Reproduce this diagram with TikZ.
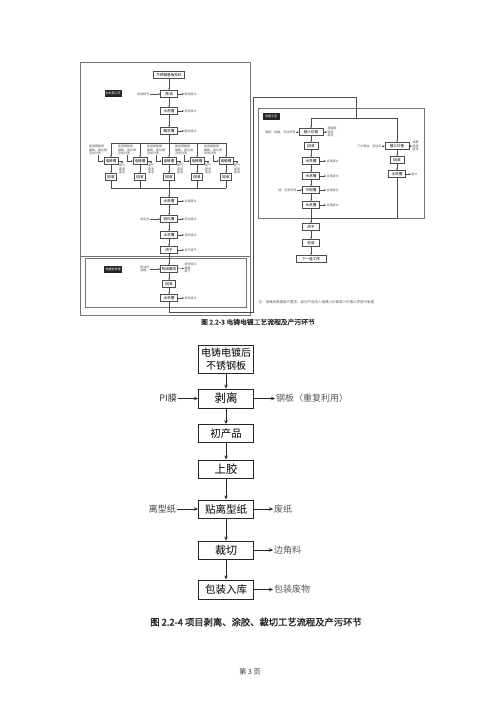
\documentclass[tikz,border=0pt]{standalone}
\usepackage{fontspec}
\setmainfont{Noto Sans CJK SC}
\newfontfamily\cjkb[FakeBold=1.5]{Noto Sans CJK SC}
\usetikzlibrary{arrows.meta}
\begin{document}
\begin{tikzpicture}[x=1pt,y=-1pt,
  tbox/.style={draw=black!70, line width=0.4pt, fill=white, inner sep=0.6pt, minimum height=7pt, minimum width=17pt, font=\fontsize{3.6}{4}\selectfont},
  tnote/.style={font=\fontsize{3}{3.4}\selectfont, text=black!65, align=left, inner sep=0.4pt},
  tar/.style={-{Stealth[length=2pt,width=1.6pt]}, draw=black!70, line width=0.4pt},
  tline/.style={draw=black!70, line width=0.4pt},
  frame/.style={draw=black!55, line width=0.5pt},
  blab/.style={fill=black!85, text=white, minimum width=17pt, minimum height=7pt, inner sep=0.3pt, font=\fontsize{3}{3.4}\selectfont},
  bbox/.style={draw=black!85, line width=0.9pt, minimum width=55pt, minimum height=18pt, inner sep=1pt, font=\fontsize{10.5}{12}\selectfont, align=center},
  bnote/.style={text=black!65, font=\fontsize{9}{10}\selectfont, inner sep=1pt},
  bar/.style={-{Stealth[length=4pt,width=3.5pt]}, line width=0.7pt, draw=black!85}
]
\fill[white] (0,0) rectangle (500,707);
\useasboundingbox (0,0) rectangle (500,707);

% ================= Figure 2.2-3 (top) =================
\draw[frame] (80,62) rectangle (250,315);
\draw[frame] (80,256) -- (250,256);
\draw[frame] (85,258) rectangle (246,307);
\draw[frame] (258,108) rectangle (424,218);

\node[tbox, minimum width=31pt] (t0) at (169,75) {不锈钢基板投料};
\node[blab] (k1) at (113,93) {前处理工序};
\node[tbox] (t1) at (169,94) {除油};
\node[tnote, anchor=east] (i1) at (150,94) {除油粉剂};
\node[tnote, anchor=west] (o1) at (184,94) {碱性废水};
\node[tbox] (t2) at (169,111) {水洗槽};
\node[tnote, anchor=west] (o2) at (184,111) {清洗废水};
\node[tbox] (t3) at (169,131) {酸洗槽};
\node[tnote, anchor=west] (o3) at (184,131) {酸性废水};
\draw[tar] (i1) -- (t1);
\draw[tar] (t1) -- (o1);
\draw[tar] (t2) -- (o2);
\draw[tar] (t3) -- (o3);
\draw[tar] (t0) -- (t1);
\draw[tar] (t1) -- (t2);
\draw[tar] (t2) -- (t3);

\coordinate (bc) at (169,143);
\coordinate (bl) at (111,143);
\coordinate (br) at (226,143);
\draw[tline] (t3) -- (bc);
\draw[tline] (bl) -- (br);
\foreach \i/\x in {1/111,2/140,3/169,4/197,5/226}{
  \coordinate (b\i) at (\x,143);
  \node[tbox, minimum width=14pt] (e\i) at (\x,161) {电铸槽};
  \node[tnote] (ei\i) at (\x-13,150) {氨基磺酸镍\\硼酸、氯化镍\\添加剂等};
  \node[tnote] (eo\i) at (\x+11,169) {废气\\废液\\废渣};
  \node[tbox, minimum width=11pt] (r\i) at (\x,177) {回收};
  \coordinate (c\i) at (\x,188);
  \draw[tar] (b\i) -- (e\i);
  \draw[tar] (ei\i.south) |- (e\i.west);
  \draw[tar] (e\i.east) -| (eo\i.north);
  \draw[tar] (e\i) -- (r\i);
  \draw[tline] (r\i) -- (c\i);
}
\draw[tline] (c1) -- (c5);

\node[tbox] (t4) at (169,201) {水洗槽};
\node[tnote, anchor=west] (o4) at (184,201) {含镍废水};
\node[tbox] (t5) at (169,219) {钝化槽};
\node[tnote, anchor=east] (i5) at (150,219) {钝化剂};
\node[tnote, anchor=west] (o5) at (184,219) {钝化废水};
\node[tbox] (t6) at (169,235) {水洗槽};
\node[tnote, anchor=west] (o6) at (184,235) {清洗废水};
\node[tbox, line width=0.7pt] (t7) at (169,250) {烘干};
\node[tnote, anchor=west] (o7) at (184,250) {烘干废气};
\draw[tar] (c3) -- (t4);
\draw[tar] (t4) -- (o4);
\draw[tar] (t4) -- (t5);
\draw[tar] (i5) -- (t5);
\draw[tar] (t5) -- (o5);
\draw[tar] (t5) -- (t6);
\draw[tar] (t6) -- (o6);
\draw[tar] (t6) -- (t7);
\draw[tar] (t7) -- (o7);

\node[blab, minimum width=18pt] (k2) at (113,269) {电镀前处理};
\node[tbox] (t8) at (169,269) {除油酸洗};
\node[tnote, anchor=east] (i8) at (150,269) {除油剂\\盐酸};
\node[tnote, anchor=west] (o8) at (184,268) {清洗废水\\酸雾\\废气};
\node[tbox, minimum width=13pt] (t9) at (169,284) {回收};
\node[tbox] (t10) at (169,298) {水洗槽};
\node[tnote, anchor=west] (o10) at (184,298) {清洗废水};
\draw[tar] (t7) -- (t8);
\draw[tar] (i8) -- (t8);
\draw[tar] (t8) -- (o8);
\draw[tar] (t8) -- (t9);
\draw[tar] (t9) -- (t10);
\draw[tar] (t10) -- (o10);

\coordinate (f1) at (169,312);
\coordinate (f2) at (253,312);
\coordinate (f3) at (253,97);
\coordinate (f4) at (356,97);
\coordinate (f5) at (356,118);
\coordinate (sl) at (311,118);
\coordinate (sr) at (397,118);
\draw[tline] (t10) -- (f1) -- (f2) -- (f3) -- (f4) -- (f5);
\draw[tline] (sl) -- (sr);

\node[blab] (k3) at (271,116) {电镀工序};
\node[tbox, minimum width=24pt] (u1) at (311,132) {镀六价铬};
\node[tnote, anchor=east] (ui1) at (296,132) {铬酐、硫酸、添加剂等};
\node[tnote, anchor=west] (uo1) at (327,132) {铬酸雾\\废液\\废渣};
\node[tbox, minimum width=14pt] (u2) at (311,146) {回收};
\node[tbox] (u3) at (311,161) {水洗槽};
\node[tnote, anchor=west] (uo3) at (326,161) {含铬废水};
\node[tbox] (u4) at (311,176) {水洗槽};
\node[tnote, anchor=west] (uo4) at (326,176) {含铬废水};
\node[tbox] (u5) at (311,190) {中和槽};
\node[tnote, anchor=east] (ui5) at (297,190) {碱、还原剂等};
\node[tnote, anchor=west] (uo5) at (326,190) {含铬废水};
\node[tbox] (u6) at (311,205) {水洗槽};
\node[tnote, anchor=west] (uo6) at (326,205) {含铬废水};
\draw[tar] (sl) -- (u1);
\draw[tar] (ui1) -- (u1);
\draw[tar] (u1) -- (uo1);
\draw[tar] (u1) -- (u2);
\draw[tar] (u2) -- (u3);
\draw[tar] (u3) -- (uo3);
\draw[tar] (u3) -- (u4);
\draw[tar] (u4) -- (uo4);
\draw[tar] (u4) -- (u5);
\draw[tar] (ui5) -- (u5);
\draw[tar] (u5) -- (uo5);
\draw[tar] (u5) -- (u6);
\draw[tar] (u6) -- (uo6);

\node[tbox, minimum width=24pt] (v1) at (397,146) {镀三价铬};
\node[tnote, anchor=east] (vi1) at (382,146) {三价铬盐、添加剂};
\node[tnote, anchor=west] (vo1) at (412,146) {铬雾\\废液\\废渣};
\node[tbox, minimum width=14pt] (v2) at (397,160) {回收};
\node[tbox] (v3) at (397,174) {水洗槽};
\node[tnote, anchor=west] (vo3) at (411,174) {废水};
\coordinate (mr) at (397,218);
\coordinate (ml) at (311,218);
\draw[tar] (sr) -- (v1);
\draw[tar] (vi1) -- (v1);
\draw[tar] (v1) -- (vo1);
\draw[tar] (v1) -- (v2);
\draw[tar] (v2) -- (v3);
\draw[tar] (v3) -- (vo3);
\draw[tline] (v3) -- (mr) -- (ml);

\node[tbox] (w1) at (311,227) {烘干};
\node[tbox] (w2) at (311,243) {检验};
\node[tbox, minimum width=30pt] (w3) at (311,259) {下一道工序};
\draw[tar] (u6) -- (w1);
\draw[tar] (w1) -- (w2);
\draw[tar] (w2) -- (w3);

\node[tnote, anchor=west, font=\fontsize{3.5}{4}\selectfont] (note) at (258,302) {注：电铸后根据客户要求，部分产品进入电镀六价铬或三价铬工序进行电镀};

\node[font=\cjkb\fontsize{6.8}{7.5}\selectfont, text=black!80] (cap1) at (258,322) {图 2.2-3 电铸电镀工艺流程及产污环节};

% ================= Figure 2.2-4 (bottom) =================
\node[bbox, minimum height=28pt, font=\fontsize{10}{12.5}\selectfont] (b1) at (226,359) {电铸电镀后\\不锈钢板};
\node[bbox, minimum height=19pt, font=\fontsize{11.5}{12}\selectfont] (b2) at (226,398.5) {剥离};
\node[bbox] (b3) at (226,433.5) {初产品};
\node[bbox, font=\fontsize{11.5}{12}\selectfont] (b4) at (226,469) {上胶};
\node[bbox] (b5) at (226,509) {贴离型纸};
\node[bbox, font=\fontsize{11}{12}\selectfont] (b6) at (226,550) {裁切};
\node[bbox, minimum height=19pt] (b7) at (226,589.5) {包装入库};

\node[bnote, anchor=east, text=black!80] (pi) at (178,398.5) {PI膜};
\node[bnote, anchor=west] (gb) at (275,398.5) {钢板（重复利用）};
\node[bnote, anchor=east, text=black!75] (lx) at (177,509) {离型纸};
\node[bnote, anchor=west] (fz) at (273,509) {废纸};
\node[bnote, anchor=west] (bj) at (273,550) {边角料};
\node[bnote, anchor=west] (bz) at (273,589.5) {包装废物};

\draw[bar] (b1) -- (b2);
\draw[bar] (b2) -- (b3);
\draw[bar] (b3) -- (b4);
\draw[bar] (b4) -- (b5);
\draw[bar] (b5) -- (b6);
\draw[bar] (b6) -- (b7);
\draw[bar] (pi) -- (b2);
\draw[bar] (b2) -- (gb);
\draw[bar] (lx) -- (b5);
\draw[bar] (b5) -- (fz);
\draw[bar] (b6) -- (bj);
\draw[bar] (b7) -- (bz);

\node[font=\cjkb\fontsize{9.3}{10.5}\selectfont, text=black!85] (cap2) at (256,622) {图 2.2-4 项目剥离、涂胶、裁切工艺流程及产污环节};
\node[font=\fontsize{7}{8}\selectfont, text=black!80] (page) at (250,672) {第 3 页};
\end{tikzpicture}
\end{document}
